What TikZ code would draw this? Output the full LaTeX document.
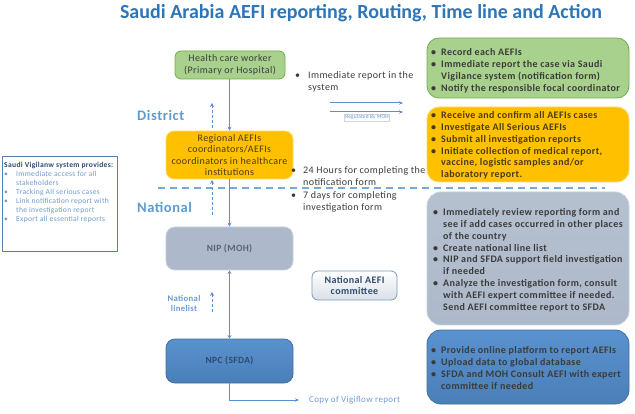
\documentclass[tikz,border=0pt]{standalone}
\usepackage{fontspec}
\setmainfont{Carlito}[LetterSpace=4]
\newfontfamily\titlefont{Carlito}
\usetikzlibrary{arrows.meta}
\definecolor{titleblue}{HTML}{2E75B6}
\definecolor{lblblue}{HTML}{5B9BD5}
\definecolor{arrblue}{HTML}{5B8FCF}
\definecolor{lgreen}{HTML}{A9D18E}
\definecolor{dgreen}{HTML}{70AD47}
\definecolor{orng}{HTML}{FFC000}
\definecolor{orngb}{HTML}{FFD966}
\definecolor{gblue}{HTML}{ADB9CA}
\definecolor{gblueb}{HTML}{C5D0DE}
\definecolor{mblue}{HTML}{5A92CF}
\definecolor{mblued}{HTML}{4A7FB8}
\definecolor{mblueb}{HTML}{41719C}
\definecolor{txtdark}{HTML}{3B3B3B}
\definecolor{txtorng}{HTML}{4A3C10}
\definecolor{txtnavy}{HTML}{2F4A6E}
\definecolor{txtnip}{HTML}{56647A}
\definecolor{lefttxt}{HTML}{6E9BD0}
\definecolor{leftbord}{HTML}{5B7FA6}
\newcommand{\bu}[1]{\makebox[10pt][l]{\textbullet}#1}
\newcommand{\ind}[1]{\hspace*{10pt}#1}
\begin{document}
\begin{tikzpicture}[x=1pt,y=-1pt,
  boxtxt/.style={font=\fontsize{10}{11.5}\selectfont, text=txtdark, align=center},
  listtxt/.style={font=\bfseries\fontsize{10}{11.8}\selectfont, text=txtdark, align=left, anchor=north west, inner sep=0pt},
  midtxt/.style={font=\fontsize{10}{12.3}\selectfont, text=txtdark, align=left, anchor=north west, inner sep=0pt},
  flowarrow/.style={draw=arrblue, line width=1.2pt, -{Stealth[length=4pt,width=4pt]}},
  dasharrow/.style={draw=arrblue, line width=1pt, dash pattern=on 3pt off 2pt, -{Stealth[length=4pt,width=4pt]}},
  levellabel/.style={font=\bfseries\fontsize{14.5}{16}\selectfont, text=lblblue, anchor=west, inner sep=0pt}
]
\useasboundingbox (0,0) rectangle (635,414);
% title
\node[font=\titlefont\bfseries\fontsize{20}{24}\selectfont, text=titleblue] (title) at (361,13) {Saudi Arabia AEFI reporting, Routing, Time line and Action};

% left column boxes
\node[draw=dgreen, fill=lgreen, line width=0.8pt, rounded corners=6pt, minimum width=110pt, minimum height=28pt, boxtxt] (hcw) at (230,65) {Health care worker\\(Primary or Hospital)};
\node[draw=orngb, fill=orng, line width=0.8pt, rounded corners=8pt, minimum width=127pt, minimum height=44pt, boxtxt, text=txtorng, font=\fontsize{10}{11.4}\selectfont] (reg) at (229.5,155) {Regional AEFIs\\coordinators/AEFIs\\coordinators in healthcare\\institutions};
\node[draw=gblueb, fill=gblue, line width=0.8pt, rounded corners=9pt, minimum width=127pt, minimum height=43pt, boxtxt, text=txtnip, font=\bfseries\fontsize{9.5}{11}\selectfont] (nip) at (229.5,248.5) {NIP (MOH)};
\node[draw=mblueb, top color=mblue, bottom color=mblued, line width=0.8pt, rounded corners=9pt, minimum width=127pt, minimum height=44pt, boxtxt, text=txtnavy, font=\bfseries\fontsize{9.5}{11}\selectfont] (npc) at (229.5,361) {NPC (SFDA)};
\node[draw=leftbord!80, top color=white, bottom color=gblue!45, line width=0.8pt, rounded corners=6pt, minimum width=85pt, minimum height=29pt, boxtxt, text=txtnavy, font=\bfseries\fontsize{10}{11.5}\selectfont] (comm) at (354.5,285.5) {National AEFI\\committee};

% right column boxes
\node[draw=dgreen, fill=lgreen, line width=0.8pt, rounded corners=12pt, minimum width=202pt, minimum height=60pt] (rgreen) at (528,68) {};
\node[draw=orngb, fill=orng, line width=0.8pt, rounded corners=12pt, minimum width=202pt, minimum height=75pt] (rorng) at (528,144.5) {};
\node[draw=gblueb, top color=gblue!90, bottom color=gblue, line width=0.8pt, rounded corners=14pt, minimum width=202pt, minimum height=133pt] (rgray) at (528,258.5) {};
\node[draw=mblueb, top color=mblue, bottom color=mblued, line width=0.8pt, rounded corners=14pt, minimum width=202pt, minimum height=74pt] (rblue) at (528,367) {};

\node[listtxt] (lgreen) at (431,48.5) {\bu{Record each AEFIs}\\\bu{Immediate report the case via Saudi}\\\ind{Vigilance system (notification form)}\\\bu{Notify the responsible focal coordinator}};
\node[listtxt, text=txtorng] (lorng) at (431,111.5) {\bu{Receive and confirm all AEFIs cases}\\\bu{Investigate All Serious AEFIs}\\\bu{Submit all investigation reports}\\\bu{Initiate collection of medical report,}\\\ind{vaccine, logistic samples and/or}\\\ind{laboratory report.}};
\node[listtxt] (lgray) at (433,208.5) {\bu{Immediately review reporting form and}\\\ind{see if add cases occurred in other places}\\\ind{of the country}\\\bu{Create national line list}\\\bu{NIP and SFDA support field investigation}\\\ind{if needed}\\\bu{Analyze the investigation form, consult}\\\ind{with AEFI expert committee if needed.}\\\ind{Send AEFI committee report to SFDA}};
\node[listtxt] (lblue) at (431,346.5) {\bu{Provide online platform to report AEFIs}\\\bu{Upload data to global database}\\\bu{SFDA and MOH Consult AEFI with expert}\\\ind{committee if needed}};

% middle notes
\node[midtxt] (note1) at (295,71.5) {\makebox[13pt][l]{\textbullet}Immediate report in the\\\hspace*{13pt}system};
\node[midtxt] (note2) at (291,166.5) {\makebox[12pt][l]{\textbullet}24 Hours for completing the\\\hspace*{12pt}notification form\\\makebox[12pt][l]{\textbullet}7 days for completing\\\hspace*{12pt}investigation form};

% regulated arrows
\coordinate (ra1) at (330,103);
\coordinate (rb1) at (403,103);
\coordinate (ra2) at (330,112);
\coordinate (rb2) at (403,112);
\draw[draw=arrblue!85!gray, line width=1pt, -{Stealth[length=4pt,width=3.5pt]}] (ra1) -- (rb1);
\draw[draw=arrblue!85!gray, line width=1pt, -{Stealth[length=4pt,width=3.5pt]}] (ra2) -- (rb2);
\node[draw=gblue!60, line width=0.3pt, font=\fontsize{5.3}{6}\selectfont, text=arrblue, inner sep=1pt] (regmoh) at (367,117.5) {Regulated By MOH};

% level labels
\node[levellabel] (district) at (137,115) {District};
\node[levellabel] (national) at (137,207) {National};
\coordinate (dl1) at (158,188);
\coordinate (dl2) at (605,188);
\draw[draw=lblblue!85, line width=1.3pt, dash pattern=on 7pt off 5pt] (dl1) -- (dl2);

% flow arrows
\draw[flowarrow] (hcw.south -| 229.5,0) -- (reg.north);
\draw[flowarrow] (reg.south) -- (nip.north);
\draw[draw=arrblue, line width=1.2pt, {Stealth[length=3.5pt,width=4pt]}-{Stealth[length=3.5pt,width=4pt]}] (nip.south) -- (npc.north);

% dashed up arrows
\coordinate (da1) at (212,128);
\coordinate (db1) at (212,103);
\coordinate (da2) at (212,215);
\coordinate (db2) at (212,180);
\coordinate (da3) at (212,312);
\coordinate (db3) at (212,292);
\draw[dasharrow] (da1) -- (db1);
\draw[dasharrow] (da2) -- (db2);
\draw[dasharrow] (da3) -- (db3);
\node[font=\bfseries\fontsize{8.7}{10}\selectfont, text=lefttxt, align=center] (linelist) at (184,303) {National\\linelist};

% copy of vigiflow
\coordinate (cv) at (299,400);
\draw[draw=arrblue, line width=1pt, -{Stealth[length=4pt,width=3.5pt]}] (npc.south) |- (cv);
\node[font=\fontsize{9}{10}\selectfont, text=lefttxt, anchor=west, inner sep=0pt] (copy) at (309,400) {Copy of Vigiflow report};

% left info box
\node[draw=leftbord, line width=1pt, minimum width=115pt, minimum height=95pt] (leftbox) at (59.5,204.5) {};
\node[font=\fontsize{7.6}{9}\selectfont, text=lefttxt, align=left, anchor=north west, inner sep=0pt] (lefttext) at (4,161.5) {{\bfseries\color{txtnavy}Saudi Vigilanw system provides:}\\\makebox[12pt][l]{\textbullet}Immediate access for all\\\hspace*{12pt}stakeholders\\\makebox[12pt][l]{\textbullet}Tracking All serious cases\\\makebox[12pt][l]{\textbullet}Link notification report with\\\hspace*{12pt}the investigation report\\\makebox[12pt][l]{\textbullet}Export all essential reports};
\end{tikzpicture}
\end{document}
